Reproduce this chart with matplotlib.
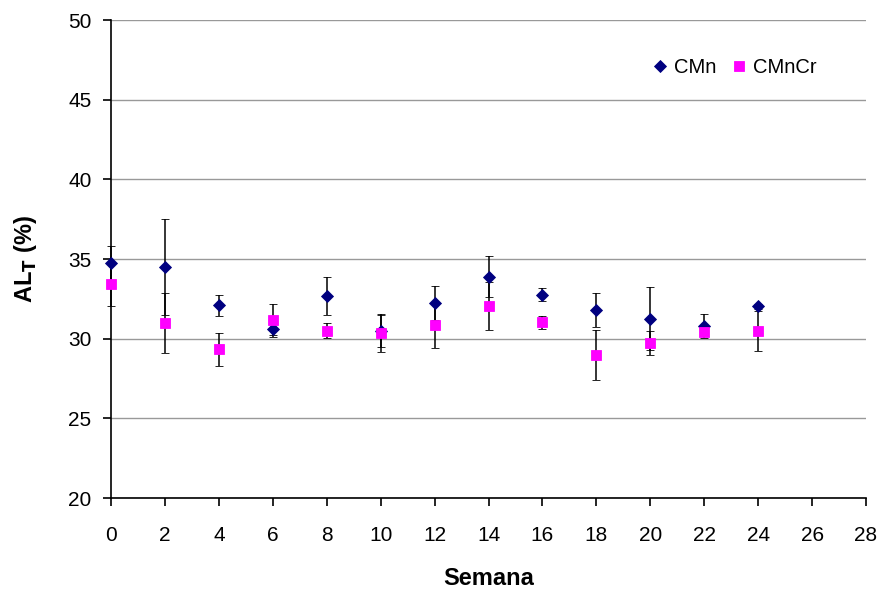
import numpy as np
import matplotlib
matplotlib.use("Agg")
import matplotlib.pyplot as plt

plt.rcParams['font.family'] = ['Liberation Sans', 'DejaVu Sans']

# datos
semana = [0, 2, 4, 6, 8, 10, 12, 14, 16, 18, 20, 22, 24]
cmn = [34.73, 34.5, 32.1, 30.6, 32.69, 30.5, 32.24, 33.9, 32.77, 31.8, 31.26, 30.8, 32.02]
cmn_err = [1.1, 3.0, 0.67, 0.5, 1.2, 1.0, 1.04, 1.29, 0.42, 1.07, 1.97, 0.75, 0.15]
cmncr = [33.42, 30.98, 29.33, 31.2, 30.5, 30.35, 30.88, 32.04, 31.03, 28.97, 29.72, 30.4, 30.5]
cmncr_err = [1.4, 1.9, 1.05, 1.0, 0.46, 1.2, 1.45, 1.5, 0.4, 1.55, 0.74, 0.2, 1.26]

fig = plt.figure(figsize=(8.82, 5.94), dpi=100)
ax = fig.add_axes([0.1259, 0.1616, 0.856, 0.8047])

e1 = ax.errorbar(semana, cmn, yerr=cmn_err, fmt='D', color='#000080', ms=6.2,
                 mew=0.6, ecolor='black', elinewidth=1.1, capsize=2.8,
                 capthick=1.1, zorder=3)
e2 = ax.errorbar(semana, cmncr, yerr=cmncr_err, fmt='s', color='#FF00FF', ms=6.8,
                 mew=0.6, ecolor='black', elinewidth=1.1, capsize=2.8,
                 capthick=1.1, zorder=3)
for c in (e1, e2):
    for art in c.get_children():
        art.set_clip_on(False)

ax.set_xlim(0, 28)
ax.set_ylim(20, 50)
ax.set_xticks(np.arange(0, 29, 2))
ax.set_yticks(np.arange(20, 51, 5))
ax.yaxis.grid(True, color='#999999', lw=1)
ax.set_axisbelow(True)
for s in ['top', 'right']:
    ax.spines[s].set_visible(False)
ax.spines['left'].set_linewidth(1.2)
ax.spines['bottom'].set_linewidth(1.2)
ax.tick_params(direction='out', length=6, width=1.2, labelsize=15)
ax.tick_params(axis='x', pad=14)
ax.tick_params(axis='y', pad=8)

ax.set_xlabel('Semana', fontsize=17, fontweight='bold')
ax.xaxis.set_label_coords(0.5, -0.145)
ax.set_ylabel(r'AL$_\mathbf{T}$ (%)', fontsize=17, fontweight='bold')
ax.yaxis.set_label_coords(-0.095, 0.5)

ax.legend([e1[0], e2[0]], ['CMn', 'CMnCr'], loc='center left',
          bbox_to_anchor=(0.69, 0.9), ncol=2, frameon=False, fontsize=14.5,
          handletextpad=0.2, columnspacing=0.6, handlelength=1.0,
          markerscale=1.0)

fig.savefig('out.png', dpi=100)
